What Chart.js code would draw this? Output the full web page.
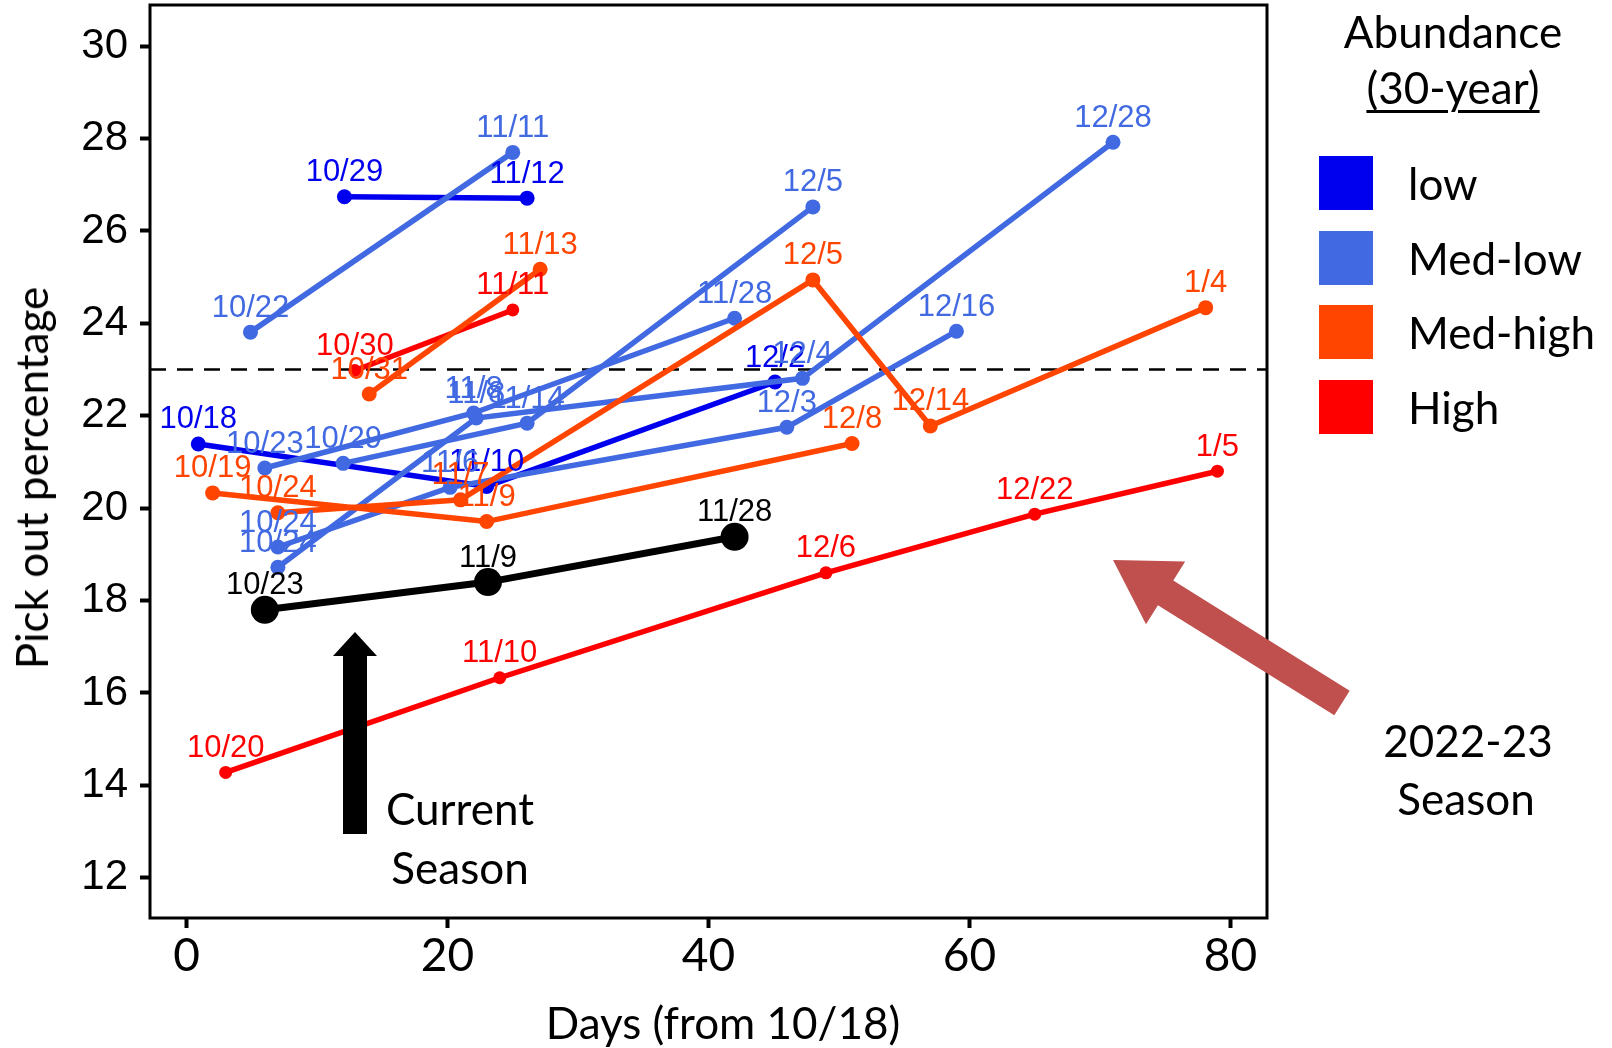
<!DOCTYPE html>
<html>
<head>
<meta charset="utf-8">
<script src="https://cdn.jsdelivr.net/npm/chart.js@4.4.1/dist/chart.umd.min.js"></script>
<style>
  html, body { margin: 0; padding: 0; background: #fff; }
  #wrap { position: relative; width: 1612px; height: 1048px; overflow: hidden; }
  #chart { position: absolute; left: 0; top: 0; }
  .txt {
    position: absolute; font-family: Lato, "Open Sans", sans-serif; color: #000;
    font-size: 44px; line-height: 1; white-space: nowrap; transform: translate(-50%, -50%);
  }
  .swatch { position: absolute; width: 54px; height: 54px; }
  .leg { position: absolute; font-family: Lato, "Open Sans", sans-serif; font-size: 44px;
         line-height: 1; white-space: nowrap; transform: translateY(-50%); }
</style>
</head>
<body>
<div id="wrap">
  <canvas id="chart" width="1612" height="1048"></canvas>
</div>
<script>
// each point: [days from 10/18, pick out %, date label]
const LOW_1 = [[12.1, 26.74, "10/29"], [26.1, 26.71, "11/12"]];
const LOW_2 = [[0.9, 21.39, "10/18"], [23.0, 20.47, "11/10"], [45.1, 22.73, "12/2"]];

const MEDLOW_1 = [[4.9, 23.81, "10/22"], [25.0, 27.70, "11/11"]];
const MEDLOW_2 = [[12.0, 20.97, "10/29"], [26.1, 21.84, "11/14"], [48.0, 26.52, "12/5"]];
const MEDLOW_3 = [[6.0, 20.87, "10/23"], [22.0, 22.06, "11/8"], [42.0, 24.11, "11/28"]];
const MEDLOW_4 = [[7.0, 18.72, "10/24"], [22.2, 21.95, "11/8"], [47.2, 22.81, "12/4"], [71.0, 27.92, "12/28"]];
const MEDLOW_5 = [[7.0, 19.16, "10/24"], [20.2, 20.45, "11/6"], [46.0, 21.75, "12/3"], [59.0, 23.83, "12/16"]];

const MEDHIGH_1 = [[14.0, 22.47, "10/31"], [27.1, 25.17, "11/13"]];
const MEDHIGH_2 = [[2.0, 20.33, "10/19"], [23.0, 19.71, "11/9"], [51.0, 21.40, "12/8"]];
const MEDHIGH_3 = [[7.0, 19.90, "10/24"], [21.0, 20.18, "11/7"], [48.0, 24.94, "12/5"], [57.0, 21.78, "12/14"], [78.1, 24.34, "1/4"]];

const HIGH_1 = [[12.9, 22.98, "10/30"], [25.0, 24.29, "11/11"]];
const HIGH_2 = [[3.0, 14.28, "10/20"], [24.0, 16.33, "11/10"], [49.0, 18.60, "12/6"], [65.0, 19.87, "12/22"], [79.0, 20.80, "1/5"]];

const CURRENT = [[6.0, 17.80, "10/23"], [23.1, 18.40, "11/9"], [42.0, 19.38, "11/28"]];

const CATEGORIES = ["low", "Med-low", "Med-high", "High"];
const THRESHOLD = 23;
const X_TICKS = [0, 20, 40, 60, 80];
const Y_TICKS = [12, 14, 16, 18, 20, 22, 24, 26, 28, 30];
const X_RANGE = [-2.8, 82.8];
const Y_RANGE = [11.13, 30.89];

// styles
const COLORS = { "low": "#0000EE", "Med-low": "#4169E1", "Med-high": "#FF4500", "High": "#FF0000", "current": "#000000" };
const LABEL_FONT = '31px "Liberation Sans", Arial, sans-serif';

// draw order: first listed is drawn on top
const SERIES = [
  [CURRENT, "current"],
  [MEDHIGH_1, "Med-high"], [MEDHIGH_2, "Med-high"], [MEDHIGH_3, "Med-high"],
  [HIGH_1, "High"], [HIGH_2, "High"],
  [MEDLOW_1, "Med-low"], [MEDLOW_2, "Med-low"], [MEDLOW_3, "Med-low"], [MEDLOW_4, "Med-low"], [MEDLOW_5, "Med-low"],
  [LOW_1, "low"], [LOW_2, "low"]
];

const datasets = SERIES.map(([pts, cat]) => {
  const cur = cat === "current";
  return {
    data: pts.map(p => ({ x: p[0], y: p[1] })),
    dateLabels: pts.map(p => p[2]),
    showLine: true,
    borderColor: COLORS[cat],
    backgroundColor: COLORS[cat],
    pointBackgroundColor: COLORS[cat],
    borderWidth: cur ? 7 : 5.5,
    pointRadius: cur ? 14 : (cat === "High" ? 6.5 : 7.5),
    pointBorderWidth: 0,
    tension: 0
  };
});

function arrow(ctx, tail, tip, shaftHalf, headLen, headHalf, color) {
  const dx = tip[0] - tail[0], dy = tip[1] - tail[1];
  const len = Math.hypot(dx, dy);
  const ux = dx / len, uy = dy / len, nx = -uy, ny = ux;
  const bx = tip[0] - ux * headLen, by = tip[1] - uy * headLen;
  ctx.fillStyle = color;
  ctx.beginPath();
  ctx.moveTo(tail[0] + nx * shaftHalf, tail[1] + ny * shaftHalf);
  ctx.lineTo(bx + nx * shaftHalf, by + ny * shaftHalf);
  ctx.lineTo(bx + nx * headHalf, by + ny * headHalf);
  ctx.lineTo(tip[0], tip[1]);
  ctx.lineTo(bx - nx * headHalf, by - ny * headHalf);
  ctx.lineTo(bx - nx * shaftHalf, by - ny * shaftHalf);
  ctx.lineTo(tail[0] - nx * shaftHalf, tail[1] - ny * shaftHalf);
  ctx.closePath();
  ctx.fill();
}

const overlay = {
  id: "overlay",
  beforeDatasetsDraw(chart) {
    const { ctx, chartArea: a, scales: { y } } = chart;
    const py = y.getPixelForValue(THRESHOLD);
    ctx.save();
    ctx.setLineDash([16, 11]);
    ctx.lineWidth = 2.5;
    ctx.strokeStyle = "#000";
    ctx.beginPath();
    ctx.moveTo(a.left, py);
    ctx.lineTo(a.right, py);
    ctx.stroke();
    ctx.restore();
  },
  afterDatasetsDraw(chart) {
    const { ctx, chartArea: a } = chart;
    ctx.save();
    ctx.font = LABEL_FONT;
    ctx.textAlign = "center";
    ctx.textBaseline = "middle";
    for (let i = chart.data.datasets.length - 1; i >= 0; i--) {
      const ds = chart.data.datasets[i];
      ctx.fillStyle = ds.borderColor;
      chart.getDatasetMeta(i).data.forEach((el, j) => {
        ctx.fillText(ds.dateLabels[j], el.x, el.y - 24);
      });
    }
    ctx.lineWidth = 3;
    ctx.strokeStyle = "#000";
    ctx.strokeRect(a.left, a.top, a.right - a.left, a.bottom - a.top);
    arrow(ctx, [355, 834], [355, 632], 12, 24, 22, "#000");
    arrow(ctx, [1342, 703], [1113, 560], 14.5, 62, 37, "#C0504D");
    ctx.restore();
  }
};

new Chart(document.getElementById("chart"), {
  type: "scatter",
  data: { datasets },
  plugins: [overlay],
  options: {
    responsive: false,
    animation: false,
    devicePixelRatio: 1,
    layout: { autoPadding: false, padding: { left: 0, right: 345, top: 5, bottom: 0 } },
    plugins: { legend: { display: false }, tooltip: { enabled: false } },
    scales: {
      x: {
        type: "linear", min: X_RANGE[0], max: X_RANGE[1],
        afterBuildTicks: s => { s.ticks = X_TICKS.map(v => ({ value: v })); },
        afterFit: s => { s.height = 130; s.paddingLeft = 0; s.paddingRight = 0; },
        border: { display: false },
        grid: { drawOnChartArea: false, drawTicks: true, tickLength: 10, tickWidth: 4, tickColor: "#000" },
        ticks: { color: "#000", padding: 1, maxRotation: 0, font: { family: "Lato", size: 46 } }
      },
      y: {
        type: "linear", min: Y_RANGE[0], max: Y_RANGE[1],
        afterBuildTicks: s => { s.ticks = Y_TICKS.map(v => ({ value: v })); },
        afterFit: s => { s.width = 150; s.paddingTop = 0; s.paddingBottom = 0; },
        border: { display: false },
        grid: { drawOnChartArea: false, drawTicks: true, tickLength: 10, tickWidth: 4, tickColor: "#000" },
        ticks: { color: "#000", padding: 12, font: { family: "Liberation Sans", size: 42 } }
      }
    }
  }
});

// axis titles, annotations, legend
const wrap = document.getElementById("wrap");
function addText(cls, text, x, y, extra) {
  const d = document.createElement("div");
  d.className = cls;
  d.textContent = text;
  d.style.left = x + "px";
  d.style.top = y + "px";
  if (extra) Object.assign(d.style, extra);
  wrap.appendChild(d);
  return d;
}
addText("txt", "Days (from 10/18)", 723, 1022);
addText("txt", "Pick out percentage", 31, 478, { transform: "translate(-50%, -50%) rotate(-90deg)" });
addText("txt", "Current", 460, 808);
addText("txt", "Season", 460, 867);
addText("txt", "2022-23", 1468, 740);
addText("txt", "Season", 1466, 798);
addText("txt", "Abundance", 1453, 31);
addText("txt", "(30-year)", 1453, 87, { textDecoration: "underline", textUnderlineOffset: "6px", textDecorationThickness: "3px" });

CATEGORIES.forEach((cat, i) => {
  const top = 156 + i * 74.5;
  const sw = document.createElement("div");
  sw.className = "swatch";
  sw.style.left = "1319px";
  sw.style.top = top + "px";
  sw.style.background = COLORS[cat];
  wrap.appendChild(sw);
  addText("leg", cat, 1408, top + 27);
});
</script>
</body>
</html>
